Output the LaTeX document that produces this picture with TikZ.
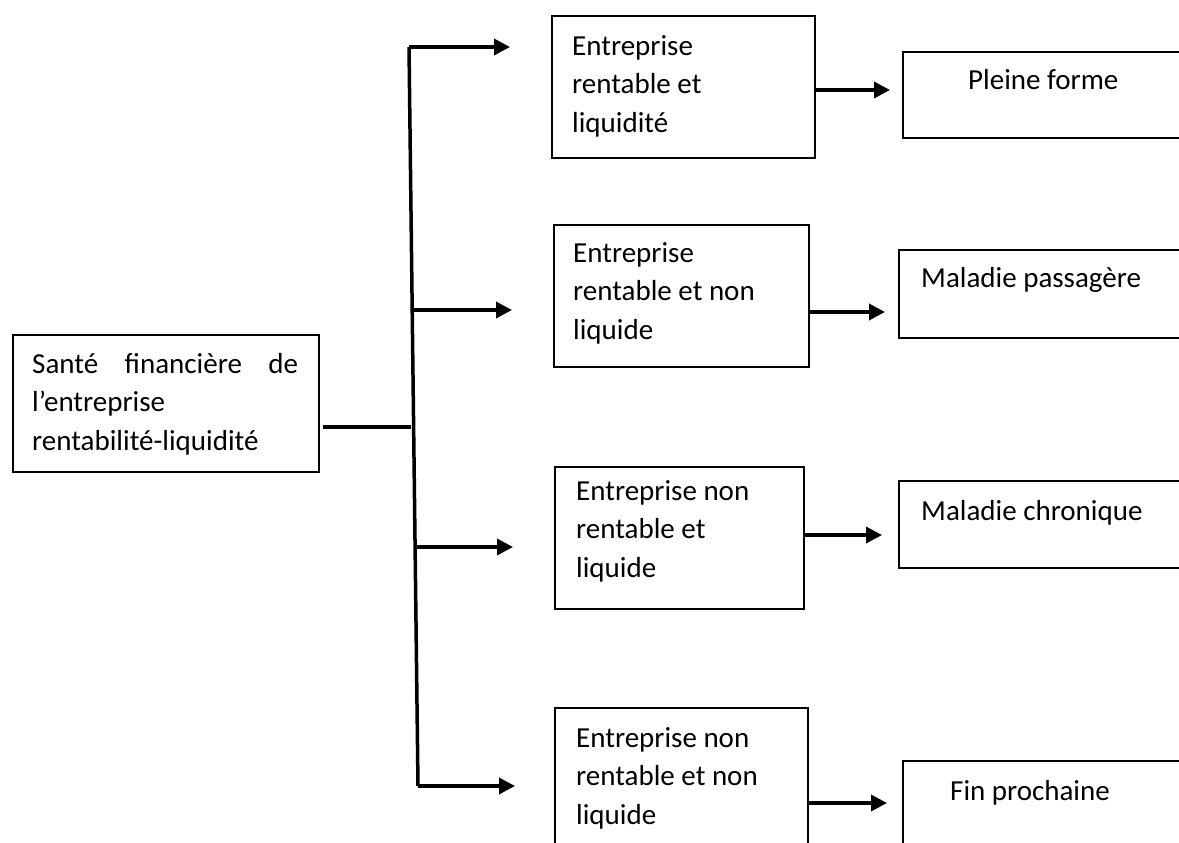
\documentclass[tikz,border=0pt]{standalone}
\usepackage{fontspec}
\setmainfont{Carlito}
\usetikzlibrary{arrows.meta}
\newcommand\myst{\rule{0pt}{22pt}}
\begin{document}
\begin{tikzpicture}[x=1pt,y=-1pt,
  box/.style={draw=black, line width=1.8pt, inner sep=0pt, anchor=north west},
  txt/.style={font=\fontsize{29}{38.5}\selectfont, inner sep=0pt, anchor=north west, align=left},
  one/.style={font=\fontsize{29}{38.5}\selectfont, inner sep=0pt, anchor=base west},
  conn/.style={draw=black, line width=3.5pt},
  arr/.style={conn, -{Triangle[length=16pt,width=16pt]}}]
\useasboundingbox (0,0) rectangle (1179,843);
\clip (0,0) rectangle (1179,843);
% source box
\node[box, minimum width=306pt, minimum height=137pt] (src) at (12,334) {};
\node[txt] (srct) at (32,351) {\myst\makebox[266pt][s]{Santé financière de}\\ l’entreprise\\ rentabilité-liquidité};
% middle boxes
\node[box, minimum width=263pt, minimum height=142pt] (m1) at (551,15) {};
\node[txt] (m1t) at (572,33) {\myst Entreprise\\ rentable et\\ liquidité};
\node[box, minimum width=255pt, minimum height=142pt] (m2) at (553,224) {};
\node[txt] (m2t) at (573,240) {\myst Entreprise\\ rentable et non\\ liquide};
\node[box, minimum width=249pt, minimum height=142pt] (m3) at (554,466) {};
\node[txt] (m3t) at (576,478) {\myst Entreprise non\\ rentable et\\ liquide};
\node[box, minimum width=253pt, minimum height=142pt] (m4) at (554,707) {};
\node[txt] (m4t) at (576,725) {\myst Entreprise non\\ rentable et non\\ liquide};
% right boxes
\node[box, minimum width=300pt, minimum height=86pt] (r1) at (902,51) {};
\node[one] (r1t) at (968,90) {Pleine forme};
\node[box, minimum width=300pt, minimum height=88pt] (r2) at (898,249) {};
\node[one] (r2t) at (921,287) {Maladie passagère};
\node[box, minimum width=300pt, minimum height=87pt] (r3) at (898,480) {};
\node[one] (r3t) at (921,520) {Maladie chronique};
\node[box, minimum width=300pt, minimum height=100pt] (r4) at (902,760) {};
\node[one] (r4t) at (950,800) {Fin prochaine};
% trunk and branches
\coordinate (hs) at (323,427);
\coordinate (j) at (411,427);
\coordinate (tTop) at (409,47);
\coordinate (t2) at (412,310);
\coordinate (t3) at (416,547);
\coordinate (tBot) at (418,786);
\coordinate (b1) at (510,47);
\coordinate (b2) at (512,310);
\coordinate (b3) at (513,547);
\coordinate (b4) at (515,786);
\draw[conn] (hs) -- (j);
\draw[conn] (tTop) -- (tBot);
\draw[arr] (tTop) -- (b1);
\draw[arr] (t2) -- (b2);
\draw[arr] (t3) -- (b3);
\draw[arr] (tBot) -- (b4);
% box to outcome arrows
\coordinate (e1) at (890,90);
\coordinate (e2) at (885,312);
\coordinate (e3) at (882,535);
\coordinate (e4) at (887,803);
\draw[arr] (m1.east |- e1) -- (e1);
\draw[arr] (m2.east |- e2) -- (e2);
\draw[arr] (m3.east |- e3) -- (e3);
\draw[arr] (m4.east |- e4) -- (e4);
\end{tikzpicture}
\end{document}
